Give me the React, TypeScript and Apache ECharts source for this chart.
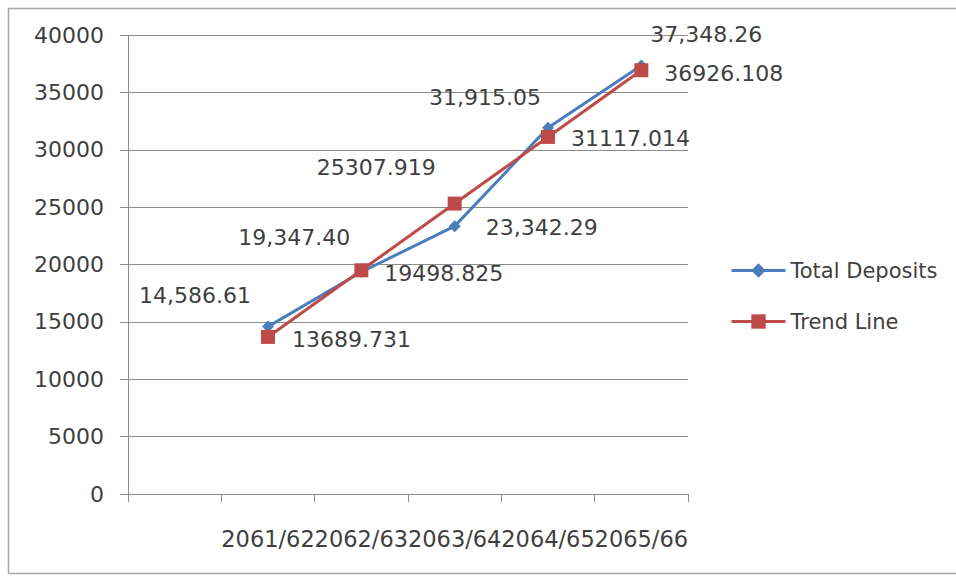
import React, { useEffect, useRef } from "react";
import * as echarts from "echarts";

// Fiscal years (first slot left empty on the category axis)
const categories = ["", "2061/62", "2062/63", "2063/64", "2064/65", "2065/66"];
const totalDeposits = [null, 14586.61, 19347.4, 23342.29, 31915.05, 37348.26];
const trendLine = [null, 13689.731, 19498.825, 25307.919, 31117.014, 36926.108];
const yTicks = { min: 0, max: 40000, interval: 5000 };

// Label placement per point: [position, offsetX, offsetY]
const depositLabelPlace: [string, number, number][] = [
  ["left", 0, 0],
  ["left", -6, -31],
  ["left", 0, -34],
  ["right", 20, 1],
  ["left", 4, -30],
  ["right", -2, -31],
];
const trendLabelPlace: [string, number, number][] = [
  ["right", 0, 0],
  ["right", 12, 3],
  ["right", 11, 3],
  ["left", -7, -36],
  ["right", 11, 2],
  ["right", 11, 3],
];

const FONT = "DejaVu Sans";
const TEXT = "#3f3f3f";
const GRID = "#8c8c8c";
const BLUE = "#4a7ebb";
const RED = "#be4b48";

const fmtComma = (v: number) =>
  v.toLocaleString("en-US", { minimumFractionDigits: 2, maximumFractionDigits: 2 });

function buildData(
  values: (number | null)[],
  place: [string, number, number][],
  fmt: (v: number) => string
) {
  return values.map((v, i) => {
    if (v === null) return "-";
    const [position, dx, dy] = place[i];
    return {
      value: v,
      label: { show: true, position, offset: [dx, dy], formatter: () => fmt(v) },
    };
  });
}

export default function App() {
  const ref = useRef<HTMLDivElement>(null);

  useEffect(() => {
    if (!ref.current) return;
    const chart = echarts.init(ref.current, null, { renderer: "svg" });
    const labelStyle = { color: TEXT, fontFamily: FONT, fontSize: 22 };
    chart.setOption({
      animation: false,
      backgroundColor: "#ffffff",
      textStyle: { fontFamily: FONT },
      graphic: [
        {
          type: "rect",
          shape: { x: 8.5, y: 8.5, width: 960, height: 565 },
          style: { fill: "none", stroke: "#a8a8a8", lineWidth: 1.5 },
          silent: true,
          z: -1,
        },
      ],
      grid: { left: 128, right: 268, top: 35, bottom: 87, containLabel: false },
      legend: {
        orient: "vertical",
        left: 725,
        top: 255,
        itemWidth: 54,
        itemHeight: 18,
        itemGap: 30,
        lineStyle: { width: 3 },
        textStyle: { ...labelStyle, fontSize: 21, padding: [0, 0, 0, 0] },
        data: ["Total Deposits", "Trend Line"],
      },
      xAxis: {
        type: "category",
        data: categories,
        boundaryGap: true,
        axisLine: { show: true, lineStyle: { color: GRID, width: 1 } },
        axisTick: { show: true, length: 8, lineStyle: { color: GRID } },
        axisLabel: { interval: 0, margin: 33, ...labelStyle, fontSize: 22.5 },
        splitLine: { show: false },
      },
      yAxis: {
        type: "value",
        min: yTicks.min,
        max: yTicks.max,
        interval: yTicks.interval,
        axisLine: { show: true, lineStyle: { color: GRID, width: 1 } },
        axisTick: { show: true, length: 8, lineStyle: { color: GRID } },
        axisLabel: { margin: 24, ...labelStyle, formatter: (v: number) => String(v) },
        splitLine: { show: true, lineStyle: { color: GRID, width: 1 } },
      },
      series: [
        {
          name: "Total Deposits",
          type: "line",
          data: buildData(totalDeposits, depositLabelPlace, fmtComma),
          symbol: "diamond",
          symbolSize: 12,
          lineStyle: { color: BLUE, width: 3 },
          itemStyle: { color: BLUE },
          label: { ...labelStyle },
          z: 2,
        },
        {
          name: "Trend Line",
          type: "line",
          data: buildData(trendLine, trendLabelPlace, (v) => v.toFixed(3)),
          symbol: "rect",
          symbolSize: 14,
          lineStyle: { color: RED, width: 3 },
          itemStyle: { color: RED },
          label: { ...labelStyle },
          z: 3,
        },
      ],
    });
    return () => chart.dispose();
  }, []);

  return (
    <div
      ref={ref}
      style={{ position: "fixed", left: 0, top: 0, width: 956, height: 581 }}
    />
  );
}
